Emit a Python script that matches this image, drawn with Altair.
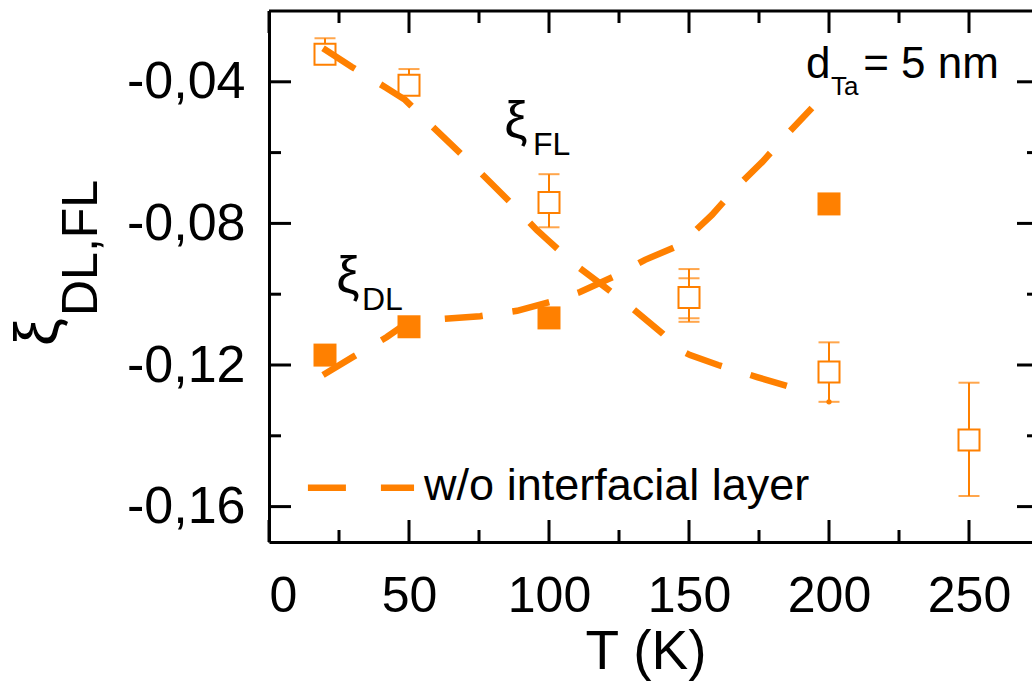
import altair as alt
import pandas as pd

ORANGE = "#ff8000"
FONT = "Liberation Sans"

# Field-like torque efficiency (open squares) vs temperature
T_FL = [20, 50, 100, 150, 200, 250]
xi_FL = [-0.0322, -0.0410, -0.0741, -0.1009, -0.1220, -0.1412]
xi_FL_upper = [-0.0277, -0.0364, -0.0661, -0.0929, -0.1136, -0.1250]
xi_FL_lower = [-0.0322, -0.0410, -0.0811, -0.1078, -0.1304, -0.1570]
# second measurement at 150 K
T_FL_b = [150]
xi_FL_b_upper = [-0.0955]
xi_FL_b_lower = [-0.1068]

# Damping-like torque efficiency (filled squares)
T_DL = [20, 50, 100, 200]
xi_DL = [-0.1172, -0.1092, -0.1067, -0.0745]

# Model without interfacial layer
T_model_FL = [19.3, 29.6, 42.1, 48.6, 58.2, 68.2, 77.1, 87.1, 95.7, 99.6,
              108.6, 120.0, 129.6, 140.4, 146.8, 150.4, 160.4, 174.3, 186.1]
xi_model_FL = [-0.0305, -0.0358, -0.0418, -0.0451, -0.0525, -0.0601, -0.0669,
               -0.0748, -0.0819, -0.0847, -0.0912, -0.0980, -0.1039, -0.1110,
               -0.1158, -0.1172, -0.1200, -0.1234, -0.1262]
T_model_DL = [19.3, 30.0, 42.1, 46.8, 62.1, 75.4, 88.6, 100.4, 111.1, 122.9,
              134.3, 146.8, 158.2, 167.1, 176.1, 185.4, 193.9]
xi_model_DL = [-0.1228, -0.1177, -0.1121, -0.1095, -0.1070, -0.1062, -0.1047,
               -0.1022, -0.0994, -0.0951, -0.0903, -0.0861, -0.0776, -0.0697,
               -0.0627, -0.0545, -0.0474]

# Tick values
x_major = [0, 50, 100, 150, 200, 250]
x_minor = [25, 75, 125, 175, 225]
y_major = [-0.16, -0.12, -0.08, -0.04]
y_minor = [-0.14, -0.10, -0.06]

W, H = 763, 531
MAJ, MIN = 22, 12

xs = alt.Scale(domain=[0, 272.5], nice=False, zero=False)
ys = alt.Scale(domain=[-0.17, -0.02], nice=False, zero=False)

label_expr = "replace(replace(format(datum.value, '.2f'), '.', ','), '\u2212', '-')"
AX = alt.Axis(values=x_major, format="d", title=None, ticks=False, tickSize=0,
              grid=False, domainColor="black", domainWidth=3, labelFont=FONT,
              labelFontSize=50, labelColor="black", labelPadding=29)
AY = alt.Axis(values=y_major, labelExpr=label_expr, title=None, ticks=False,
              tickSize=0, grid=False, domainColor="black", domainWidth=3,
              labelFont=FONT, labelFontSize=52, labelColor="black",
              labelPadding=24)

fl = pd.DataFrame({"T": T_FL, "xi": xi_FL, "hi": xi_FL_upper, "lo": xi_FL_lower})
fl_b = pd.DataFrame({"T": T_FL_b, "hi": xi_FL_b_upper, "lo": xi_FL_b_lower})
dl = pd.DataFrame({"T": T_DL, "xi": xi_DL})
m_fl = pd.DataFrame({"T": T_model_FL, "xi": xi_model_FL})
m_dl = pd.DataFrame({"T": T_model_DL, "xi": xi_model_DL})

caps = pd.concat([
    fl.loc[fl["hi"] != fl["xi"], ["T", "hi"]].rename(columns={"hi": "v"}),
    fl.loc[fl["lo"] != fl["xi"], ["T", "lo"]].rename(columns={"lo": "v"}),
    fl_b[["T", "hi"]].rename(columns={"hi": "v"}),
    fl_b[["T", "lo"]].rename(columns={"lo": "v"}),
])
bars = pd.concat([
    fl[["T", "xi", "hi"]].rename(columns={"xi": "a", "hi": "b"}),
    fl[["T", "xi", "lo"]].rename(columns={"xi": "a", "lo": "b"}),
])


def X(f="T"):
    return alt.X(f"{f}:Q", scale=xs, axis=AX)


def Y(f="xi"):
    return alt.Y(f"{f}:Q", scale=ys, axis=AY)


def XD(v):
    return alt.XDatum(v, type="quantitative", scale=xs, axis=AX)


def YD(v):
    return alt.YDatum(v, type="quantitative", scale=ys, axis=AY)


top_line = alt.Chart().mark_rule(color="black", strokeWidth=3).encode(
    x=alt.value(0), x2=alt.value(W), y=alt.value(0))


def xticks(vals, n):
    d = pd.DataFrame({"t": vals})
    bottom = alt.Chart(d).mark_rule(color="black", strokeWidth=3).encode(
        x=X("t"), y=alt.value(H), y2=alt.value(H - n))
    top = alt.Chart(d).mark_rule(color="black", strokeWidth=3).encode(
        x=X("t"), y=alt.value(0), y2=alt.value(n))
    return bottom + top


def yticks(vals, n):
    d = pd.DataFrame({"t": vals})
    left = alt.Chart(d).mark_rule(color="black", strokeWidth=3).encode(
        y=Y("t"), x=alt.value(0), x2=alt.value(n))
    right = alt.Chart(d).mark_rule(color="black", strokeWidth=3).encode(
        y=Y("t"), x=alt.value(W + 7 - n), x2=alt.value(W))
    return left + right


ticks = (xticks(x_major, MAJ) + xticks(x_minor, MIN)
         + yticks(y_major, MAJ) + yticks(y_minor, MIN))

err = alt.Chart(bars).mark_rule(color=ORANGE, strokeWidth=2).encode(
    x=X(), y=Y("a"), y2="b:Q")
err_b = alt.Chart(fl_b).mark_rule(color=ORANGE, strokeWidth=2).encode(
    x=X(), y=Y("hi"), y2="lo:Q")
cap = alt.Chart(caps).mark_tick(color=ORANGE, thickness=2, size=21,
                                orient="horizontal").encode(x=X(), y=Y("v"))
dot = alt.Chart().mark_point(shape="circle", filled=True, size=28,
                             color=ORANGE, opacity=1).encode(
    x=XD(200), y=YD(-0.1304))

open_sq = alt.Chart(fl).mark_point(shape="square", size=441, filled=False,
                                   fill="white", fillOpacity=1, stroke=ORANGE,
                                   strokeWidth=2, opacity=1).encode(x=X(), y=Y())
fill_sq = alt.Chart(dl).mark_point(shape="square", size=529, filled=True,
                                   color=ORANGE, opacity=1).encode(x=X(), y=Y())

dash = [38, 30]
line_fl = alt.Chart(m_fl).mark_line(color=ORANGE, strokeWidth=6.5,
                                    strokeDash=dash).encode(x=X(), y=Y())
line_dl = alt.Chart(m_dl).mark_line(color=ORANGE, strokeWidth=6.5,
                                    strokeDash=dash).encode(x=X(), y=Y())

# legend sample and annotations
leg_line = alt.Chart().mark_rule(color=ORANGE, strokeWidth=6.5,
                                 strokeDash=[38, 35]).encode(
    x=XD(13.9), x2=alt.X2Datum(51.8), y=YD(-0.1547))


def txt(s, T, v, size, align="left", baseline="alphabetic"):
    return alt.Chart().mark_text(text=s, font=FONT, fontSize=size, color="black",
                                 align=align, baseline=baseline).encode(
        x=XD(T), y=YD(v))


notes = (
    txt("w/o interfacial layer", 55.4, -0.1581, 45)
    + txt("\u03be", 88.2, -0.0514, 52, align="center", baseline="middle")
    + txt("FL", 94.3, -0.0607, 32)
    + txt("\u03be", 28.2, -0.0951, 52, align="center", baseline="middle")
    + txt("DL", 33.2, -0.1045, 32)
    + txt("d", 191.8, -0.0389, 44)
    + txt("Ta", 200.7, -0.0436, 26)
    + txt("= 5 nm", 212.2, -0.0389, 44)
)

# axis titles
x_title = alt.Chart().mark_text(text="T (K)", font=FONT, fontSize=55,
                                color="black", align="center",
                                baseline="alphabetic").encode(
    x=alt.value(377), y=alt.value(658))
y_title = (
    alt.Chart().mark_text(text="\u03be", font=FONT, fontSize=62, color="black",
                          angle=270, align="center", baseline="middle").encode(
        x=alt.value(-231), y=alt.value(321))
    + alt.Chart().mark_text(text="DL,FL", font=FONT, fontSize=50, color="black",
                            angle=270, align="left", baseline="alphabetic").encode(
        x=alt.value(-172), y=alt.value(305))
)

chart = alt.layer(
    top_line, ticks, err, err_b, cap, open_sq, dot, line_fl, line_dl,
    fill_sq, leg_line, notes, x_title, y_title
).properties(
    width=W, height=H,
    padding={"left": 269, "top": 11, "right": 0, "bottom": 139},
    autosize=alt.AutoSizeParams(type="none"),
).configure_view(stroke=None)

chart.save("out.html", embed_options={"renderer": "svg", "actions": False})
